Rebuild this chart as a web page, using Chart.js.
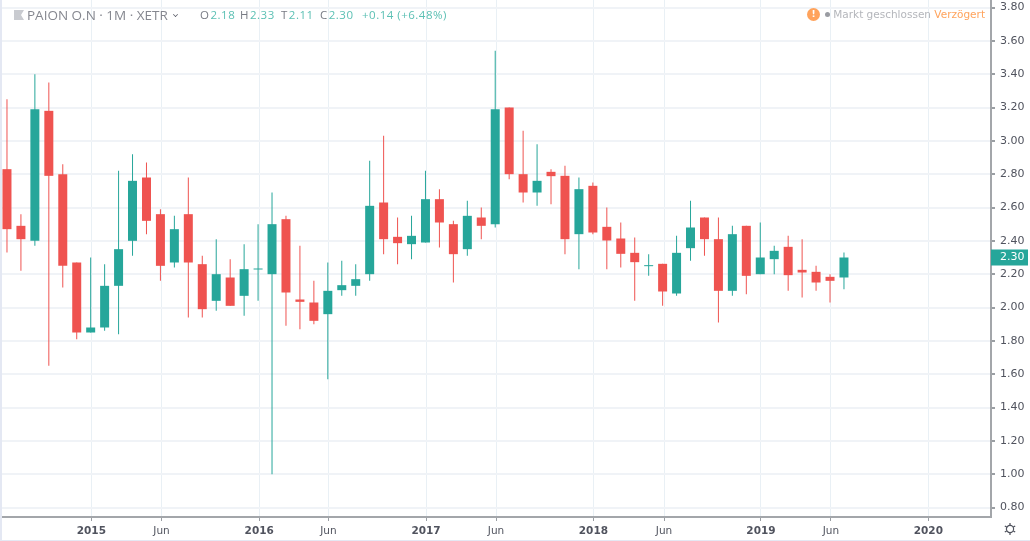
<!DOCTYPE html>
<html lang="de">
<head>
<meta charset="utf-8">
<title>PAION O.N 1M XETR</title>
<script src="https://cdn.jsdelivr.net/npm/chart.js@4/dist/chart.umd.min.js"></script>
<style>
  html, body { margin: 0; padding: 0; background: #fff; }
  #wrap { position: relative; width: 1030px; height: 541px; overflow: hidden; background: #fff; }
  canvas { position: absolute; left: 0; top: 0; }
  .strip { position: absolute; background: #e4e8f3; }
  .legend { position: absolute; left: 14px; top: 6px; height: 18px; line-height: 18px; white-space: nowrap; font-family: "Open Sans", sans-serif; }
  .legend .flag { position: absolute; left: 0; top: 4px; width: 10px; height: 10px; background: #c9cbd0; clip-path: polygon(0 0, 100% 0, 70% 50%, 100% 100%, 0 100%); }
  .legend .name { position: absolute; left: 13px; top: 0; font-size: 13.5px; color: #85878f; }
  .legend .chev { position: absolute; left: 159px; top: 0; margin-top: 6px; border: solid #50535e; border-width: 0 1.5px 1.5px 0; transform: rotate(45deg) scale(0.7); width: 4px; height: 4px; }
  .legend .val { position: absolute; top: 0; font-size: 11.5px; letter-spacing: 0.5px; color: #5cc0b4; }
  .legend .val b { font-weight: 400; color: #787b84; margin-right: 1px; }
  .status { position: absolute; right: 45px; top: 6px; height: 16px; line-height: 16px; font-family: "DejaVu Sans", sans-serif; font-size: 10.5px; color: #b4b6bb; white-space: nowrap; }
  .status .warn { color: #ffa35c; }
  .bang { position: absolute; left: 807px; top: 8px; width: 13px; height: 13px; border-radius: 50%; background: #ffa35c; color: #fff; font: bold 9px/13px "DejaVu Sans", sans-serif; text-align: center; }
  .dot { position: absolute; left: 825px; top: 12px; width: 5px; height: 5px; border-radius: 50%; background: #9a9ca2; }
  #gear { position: absolute; left: 1003px; top: 522px; }
</style>
</head>
<body>
<div id="wrap">
  <canvas id="priceChart" width="1030" height="541"></canvas>
  <div class="strip" style="left:0;top:0;width:2px;height:541px"></div>
  <div class="strip" style="left:0;top:540px;width:1030px;height:1px"></div>
  <div class="legend">
    <span class="flag"></span>
    <span class="name">PAION O.N · 1M · XETR</span>
    <span class="chev"></span>
    <span class="val" style="left:186px"><b>O</b>2.18</span>
    <span class="val" style="left:226px"><b>H</b>2.33</span>
    <span class="val" style="left:267px"><b>T</b>2.11</span>
    <span class="val" style="left:306px"><b>C</b>2.30</span>
    <span class="val" style="left:348px">+0.14 (+6.48%)</span>
  </div>
  <div class="bang">!</div>
  <div class="dot"></div>
  <div class="status">Markt geschlossen <span class="warn">Verzögert</span></div>
  <svg id="gear" width="14" height="14" viewBox="0 0 14 14" fill="none" stroke="#50535e" stroke-width="1.2">
    <circle cx="7" cy="7" r="3.6"/>
    <path d="M7 1v2.2M7 10.8V13M1.8 4l1.9 1.1M10.3 8.9l1.9 1.1M1.8 10l1.9-1.1M10.3 5.1l1.9-1.1"/>
  </svg>
</div>

<script>
// Monatskerzen Jul 2014 - Jul 2019
const opens = [2.83, 2.49, 2.40, 3.18, 2.80, 2.27, 1.85, 1.88, 2.13, 2.40, 2.78, 2.56,
  2.27, 2.56, 2.26, 2.04, 2.18, 2.07, 2.228, 2.20, 2.53, 2.048, 2.03, 1.96,
  2.104, 2.13, 2.20, 2.63, 2.424, 2.38, 2.39, 2.65, 2.50, 2.35, 2.54, 2.50,
  3.20, 2.80, 2.69, 2.814, 2.79, 2.44, 2.73, 2.484, 2.414, 2.328, 2.248, 2.262,
  2.084, 2.356, 2.54, 2.41, 2.10, 2.49, 2.20, 2.29, 2.364, 2.226, 2.214, 2.184, 2.18];
const closes = [2.47, 2.41, 3.19, 2.79, 2.25, 1.85, 1.88, 2.13, 2.35, 2.76, 2.52, 2.25,
  2.47, 2.27, 1.99, 2.20, 2.01, 2.23, 2.232, 2.50, 2.09, 2.034, 1.92, 2.10,
  2.134, 2.17, 2.61, 2.41, 2.386, 2.43, 2.65, 2.51, 2.32, 2.55, 2.49, 3.19,
  2.80, 2.69, 2.76, 2.788, 2.41, 2.71, 2.45, 2.402, 2.322, 2.272, 2.254, 2.096,
  2.328, 2.48, 2.41, 2.10, 2.44, 2.19, 2.30, 2.34, 2.194, 2.21, 2.15, 2.16, 2.30];
const highs = [3.25, 2.56, 3.40, 3.35, 2.86, 2.27, 2.30, 2.26, 2.82, 2.92, 2.87, 2.59,
  2.55, 2.78, 2.31, 2.41, 2.29, 2.38, 2.50, 2.69, 2.55, 2.37, 2.16, 2.27,
  2.28, 2.26, 2.88, 3.03, 2.54, 2.55, 2.82, 2.71, 2.52, 2.64, 2.60, 3.54,
  3.20, 3.06, 2.98, 2.83, 2.85, 2.78, 2.75, 2.60, 2.51, 2.42, 2.32, 2.262,
  2.43, 2.64, 2.54, 2.54, 2.49, 2.49, 2.51, 2.37, 2.43, 2.41, 2.25, 2.20, 2.33];
const lows = [2.33, 2.22, 2.37, 1.65, 2.12, 1.81, 1.85, 1.86, 1.84, 2.31, 2.44, 2.16,
  2.24, 1.94, 1.94, 1.98, 2.01, 1.95, 2.04, 1.00, 1.89, 1.87, 1.90, 1.57,
  2.07, 2.07, 2.16, 2.32, 2.26, 2.29, 2.39, 2.36, 2.15, 2.31, 2.41, 2.48,
  2.77, 2.63, 2.61, 2.62, 2.32, 2.23, 2.44, 2.23, 2.24, 2.04, 2.19, 2.01,
  2.07, 2.28, 2.31, 1.91, 2.07, 2.08, 2.20, 2.20, 2.10, 2.06, 2.10, 2.03, 2.11];

const xTickPositions = [6.05, 11.08, 18.08, 23.04, 30.04, 35.06, 42.04, 47.1, 54.05, 59.06, 66.05];
const xTickLabels = ['2015', 'Jun', '2016', 'Jun', '2017', 'Jun', '2018', 'Jun', '2019', 'Jun', '2020'];
const yTickValues = [0.8, 1.0, 1.2, 1.4, 1.6, 1.8, 2.0, 2.2, 2.4, 2.6, 2.8, 3.0, 3.2, 3.4, 3.6, 3.8];

const lastPrice = 2.30;

const UP = '#26a69a';
const DOWN = '#ef5350';
const candleColors = closes.map((c, i) => (c >= opens[i] ? UP : DOWN));

// Preisschild an der rechten Achse
const lastPriceLabel = {
  id: 'lastPriceLabel',
  afterDraw(chart) {
    const { ctx, scales: { y }, chartArea } = chart;
    const py = y.getPixelForValue(lastPrice);
    ctx.save();
    ctx.fillStyle = UP;
    ctx.fillRect(chartArea.right, py - 8, 37, 16);
    ctx.fillStyle = '#fff';
    ctx.font = '11px "DejaVu Sans"';
    ctx.textBaseline = 'middle';
    ctx.fillText(lastPrice.toFixed(2), chartArea.right + 9, py);
    ctx.restore();
  }
};

new Chart(document.getElementById('priceChart'), {
  type: 'bar',
  data: {
    datasets: [
      {
        label: 'Körper',
        data: opens.map((o, i) => ({ x: i, y: [o, closes[i]] })),
        backgroundColor: candleColors,
        barThickness: 9,
        borderWidth: 0,
        inflateAmount: 0,
        order: 1
      },
      {
        label: 'Docht',
        data: lows.map((l, i) => ({ x: i, y: [l, highs[i]] })),
        backgroundColor: candleColors,
        barThickness: 1,
        borderWidth: 0,
        inflateAmount: 0,
        order: 2
      }
    ]
  },
  options: {
    responsive: false,
    animation: false,
    events: [],
    layout: { padding: 0 },
    datasets: { bar: { grouped: false, minBarLength: 1 } },
    plugins: { legend: { display: false }, tooltip: { enabled: false } },
    scales: {
      x: {
        type: 'linear',
        offset: false,
        min: -0.5,
        max: 70.54,
        afterBuildTicks: (scale) => { scale.ticks = xTickPositions.map(v => ({ value: v })); },
        afterFit: (scale) => {
          scale.height = 24;
          scale.paddingLeft = 0;
          scale.paddingRight = 0;
        },
        grid: { offset: false, color: '#e9f0f5', lineWidth: 1, tickColor: '#9a9ea3', tickLength: 4 },
        border: { display: true, color: '#a3a6aa', width: 2 },
        ticks: {
          autoSkip: false,
          maxRotation: 0,
          padding: 4,
          color: '#50535e',
          font: (ctx) => ({
            family: '"DejaVu Sans"',
            size: 10.5,
            weight: ctx.index % 2 === 0 ? 'bold' : 'normal'
          }),
          callback: (v, index) => xTickLabels[index]
        }
      },
      y: {
        position: 'right',
        min: 0.743,
        max: 3.845,
        afterBuildTicks: (scale) => { scale.ticks = yTickValues.map(v => ({ value: v })); },
        afterFit: (scale) => {
          scale.width = 39;
          scale.paddingTop = 0;
          scale.paddingBottom = 0;
        },
        grid: { color: '#f0f3f7', lineWidth: 2, tickColor: '#9a9ea3', tickLength: 4 },
        border: { display: true, color: '#a3a6aa', width: 2 },
        ticks: {
          padding: 5,
          color: '#50535e',
          font: { family: '"DejaVu Sans"', size: 11 },
          callback: (v) => v.toFixed(2)
        }
      }
    }
  },
  plugins: [lastPriceLabel]
});
</script>
</body>
</html>
